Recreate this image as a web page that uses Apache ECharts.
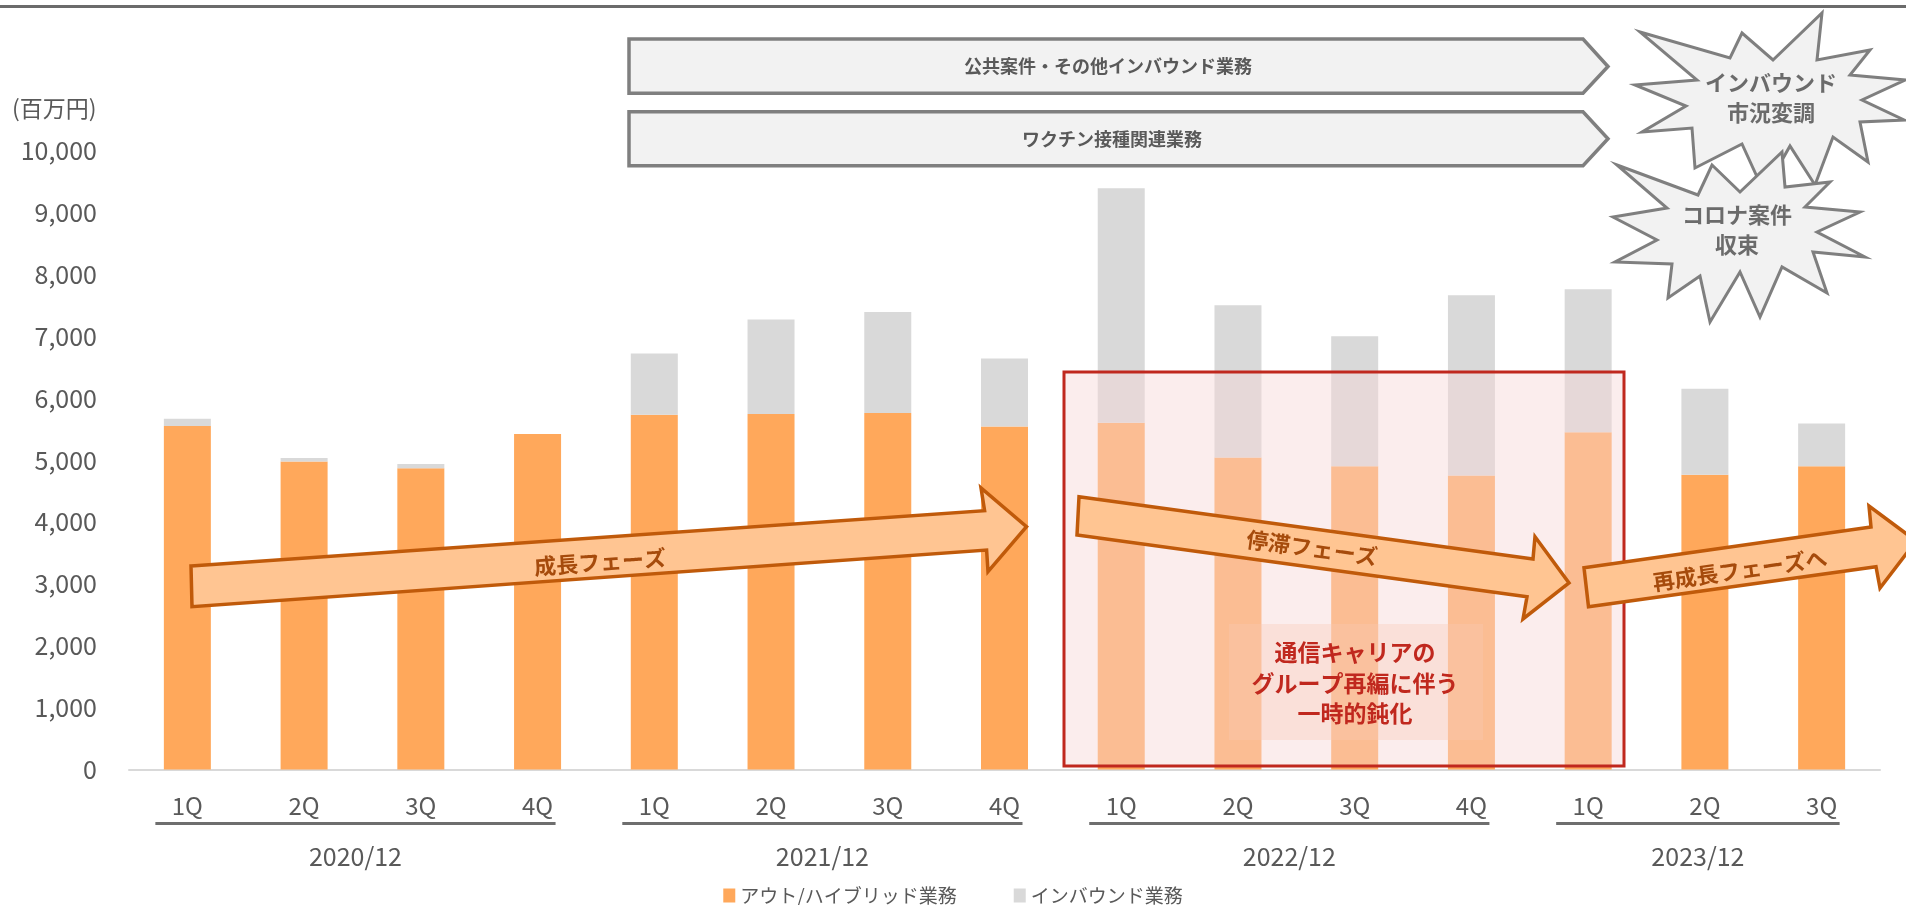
<!DOCTYPE html>
<html><head><meta charset="utf-8">
<script src="https://cdn.jsdelivr.net/npm/echarts@6/dist/echarts.min.js"></script>
<style>html,body{margin:0;padding:0;background:#fff}#c{width:1906px;height:905px}</style>
</head><body><div id="c"></div>
<script>
// ---- data ----
const quarters = ['1Q','2Q','3Q','4Q','1Q','2Q','3Q','4Q','1Q','2Q','3Q','4Q','1Q','2Q','3Q'];
const fiscalYears = ['2020/12','2021/12','2022/12','2023/12'];
const yearGroupStart = [0, 4, 8, 12];
const yearGroupEnd = [3, 7, 11, 14];
const outHybrid = [5550, 4975, 4865, 5420, 5730, 5745, 5760, 5540, 5600, 5040, 4900, 4750, 5450, 4760, 4900];
const inbound = [115, 57, 70, 0, 990, 1525, 1630, 1100, 3790, 2460, 2100, 2910, 2310, 1390, 690];
const seriesNames = ['アウト/ハイブリッド業務', 'インバウンド業務'];
const yTicks = [0, 10000, 1000];

const FONT = "'Noto Sans CJK JP', 'Noto Sans', sans-serif";
const TXT = '#595959';
const chart = echarts.init(document.getElementById('c'));

function star(pts, z) {
  return { type: 'polygon', z: z, shape: { points: pts },
    style: { fill: '#F2F2F2', stroke: '#7F7F7F', lineWidth: 3, lineJoin: 'miter' } };
}
function txt(x, y, t, size, color, rot, z) {
  return { type: 'text', x: x, y: y, rotation: rot || 0, z: z || 120,
    style: { text: t, fill: color, font: 'bold ' + size + 'px ' + FONT, align: 'center', verticalAlign: 'middle' } };
}
const arrowStyle = { fill: '#FFC592', stroke: '#C05A0A', lineWidth: 3.5, lineJoin: 'miter' };
const bannerStyle = { fill: '#F2F2F2', stroke: '#7F7F7F', lineWidth: 3.5, lineJoin: 'miter' };

const star1 = [[1640,32],[1730,58],[1742,33],[1773,60],[1822,13],[1817,60],[1870,50],[1850,75],[1905,80],[1862,100],[1904,120],[1860,122],[1868,162],[1833,137],[1815,185],[1790,146],[1764,192],[1742,144],[1695,168],[1692,128],[1642,132],[1686,106],[1635,85],[1697,80]];
const star2 = [[1617,165],[1698,195],[1712,165],[1740,192],[1782,152],[1785,187],[1830,182],[1805,207],[1860,212],[1817,232],[1865,257],[1813,252],[1827,293],[1782,267],[1760,317],[1740,272],[1710,322],[1700,276],[1668,298],[1672,264],[1615,262],[1657,240],[1613,217],[1667,208]];

const option = {
  animation: false,
  backgroundColor: '#fff',
  textStyle: { fontFamily: FONT },
  grid: { left: 129, right: 26, top: 150.5, bottom: 135.5, containLabel: false },
  legend: {
    data: seriesNames, top: 881, left: 'center', icon: 'rect', itemWidth: 12, itemHeight: 14, itemGap: 57,
    textStyle: { fontSize: 19, color: TXT, fontFamily: FONT }
  },
  xAxis: {
    type: 'category', data: quarters.map((q, i) => i + ':' + q),
    axisLine: { lineStyle: { color: '#D9D9D9', width: 2 } },
    axisTick: { show: false },
    axisLabel: { formatter: v => v.split(':')[1], fontSize: 24, color: TXT, margin: 24, fontFamily: FONT }
  },
  yAxis: {
    type: 'value', min: yTicks[0], max: yTicks[1], interval: yTicks[2],
    splitLine: { show: false }, axisLine: { show: false }, axisTick: { show: false },
    axisLabel: { formatter: v => v.toLocaleString('en-US'), fontSize: 25, color: TXT, margin: 32, fontFamily: FONT }
  },
  series: [
    { name: seriesNames[0], type: 'bar', stack: 'total', barWidth: 47, data: outHybrid, itemStyle: { color: '#FFA85B' } },
    { name: seriesNames[1], type: 'bar', stack: 'total', barWidth: 47, data: inbound, itemStyle: { color: '#D9D9D9' } },
    {
      type: 'custom', name: 'years', clip: false, silent: true, z: 5,
      data: fiscalYears.map((y, i) => [yearGroupStart[i], yearGroupEnd[i], i]),
      renderItem: function (params, api) {
        const s = api.value(0), e = api.value(1), idx = api.value(2);
        const p0 = api.coord([s, 0]), p1 = api.coord([e, 0]);
        const x0 = p0[0] - 32, x1 = p1[0] + 18, y = p0[1];
        return { type: 'group', children: [
          { type: 'line', shape: { x1: x0, y1: y + 54, x2: x1, y2: y + 54 }, style: { stroke: '#6E6E6E', lineWidth: 3 } },
          { type: 'text', x: (x0 + x1) / 2, y: y + 87, style: { text: fiscalYears[idx], fill: TXT, font: '25px ' + FONT, align: 'center', verticalAlign: 'middle' } }
        ]};
      }
    }
  ],
  graphic: { elements: [
    { type: 'line', z: 100, shape: { x1: 0, y1: 6.5, x2: 1906, y2: 6.5 }, style: { stroke: '#6B6B6B', lineWidth: 3 } },
    { type: 'text', z: 100, x: 12, y: 108, style: { text: '(百万円)', fill: TXT, font: '23px ' + FONT, verticalAlign: 'middle' } },
    { type: 'polygon', z: 100, shape: { points: [[629,39],[1583,39],[1608,66.5],[1583,93.3],[629,93.3]] }, style: bannerStyle },
    txt(1108, 66.5, '公共案件・その他インバウンド業務', 18, '#595959', 0, 101),
    { type: 'polygon', z: 100, shape: { points: [[629,111.7],[1583,111.7],[1608,138.7],[1583,165.7],[629,165.7]] }, style: bannerStyle },
    txt(1112, 138.7, 'ワクチン接種関連業務', 18, '#595959', 0, 101),
    star(star1, 102),
    txt(1771, 83, 'インバウンド', 22, '#6B6B6B', 0, 103),
    txt(1771, 113, '市況変調', 22, '#6B6B6B', 0, 103),
    star(star2, 104),
    txt(1737, 215, 'コロナ案件', 22, '#6B6B6B', 0, 105),
    txt(1737, 245, '収束', 22, '#6B6B6B', 0, 105),
    { type: 'rect', z: 110, shape: { x: 1064, y: 372, width: 560, height: 394 }, style: { fill: 'rgba(246,216,214,0.45)', stroke: '#C0281E', lineWidth: 3 } },
    { type: 'rect', z: 111, shape: { x: 1229, y: 624, width: 254, height: 116 }, style: { fill: 'rgba(250,200,180,0.35)' } },
    txt(1355, 652, '通信キャリアの', 23, '#C0281E', 0, 112),
    txt(1355, 683, 'グループ再編に伴う', 23, '#C0281E', 0, 112),
    txt(1355, 713, '一時的鈍化', 23, '#C0281E', 0, 112),
    { type: 'polygon', z: 115, shape: { points: [[191,566],[984.6,510.7],[981,488],[1026.5,526.7],[988,571.7],[986.6,550],[192,606.7]] }, style: arrowStyle },
    txt(600, 562, '成長フェーズ', 22, '#A64B0C', 4 * Math.PI / 180, 116),
    { type: 'polygon', z: 115, shape: { points: [[1079,496.7],[1533,559],[1535,536.7],[1569,583],[1523,619],[1527,596.7],[1077,535]] }, style: arrowStyle },
    txt(1312, 548, '停滞フェーズ', 22, '#A64B0C', -7.8 * Math.PI / 180, 116),
    { type: 'polygon', z: 115, shape: { points: [[1584,567.7],[1871,527],[1869,506],[1916,541],[1880,588],[1876,566.7],[1588.5,606.7]] }, style: arrowStyle },
    txt(1740, 570, '再成長フェーズへ', 22, '#A64B0C', 8.1 * Math.PI / 180, 116)
  ]}
};
chart.setOption(option);
</script></body></html>
